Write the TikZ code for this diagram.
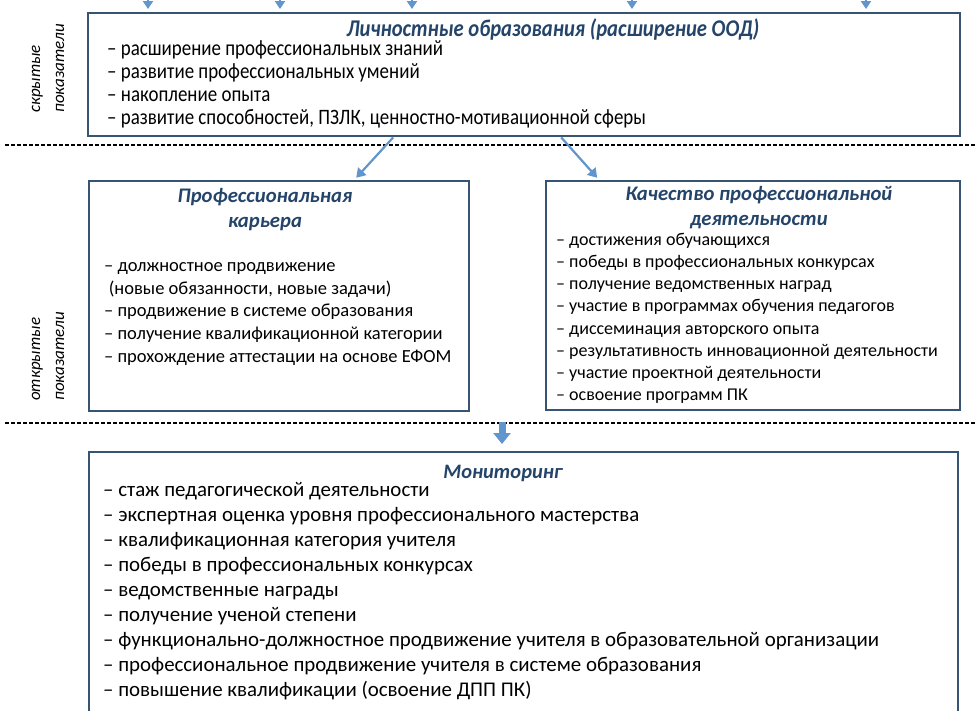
\documentclass[tikz,border=0pt]{standalone}
\usepackage{fontspec}
\setmainfont{Carlito}
\newfontfamily\condfont[FakeStretch=0.86]{Carlito}
\usetikzlibrary{arrows.meta,calc}
\definecolor{boxc}{RGB}{55,84,115}
\definecolor{titc}{RGB}{36,68,106}
\definecolor{arrc}{RGB}{96,150,205}
\begin{document}
\begin{tikzpicture}[x=1pt,y=-1pt,
  box/.style={draw=boxc, line width=2.4pt, fill=white, inner sep=0pt, anchor=north west},
  ttl/.style={text=titc, font=#1\bfseries\itshape, align=center, inner sep=0pt},
  itm/.style={text=black, font=#1, anchor=mid west, inner sep=0pt},
  side/.style={rotate=90, anchor=west, align=left, inner sep=0pt,
    font=\fontsize{17}{24}\selectfont\itshape},
  sep/.style={dashed, dash pattern=on 4pt off 2pt, line width=1.3pt, black},
  arrs/.style={arrc, line width=2pt, -{Triangle[width=10pt,length=8pt]}},
  arrm/.style={arrc, line width=2.2pt, -{Triangle[width=11pt,length=9pt]}},
  arrb/.style={arrc, line width=7pt, -{Triangle[width=17pt,length=11pt]}}]
\useasboundingbox (0,0) rectangle (980,710);
\clip (0,0) rectangle (980,710);
% separators
\draw[sep] (5,145) -- (975,145);
\draw[sep] (5,423) -- (975,423);
% boxes
\node[box, minimum width=872pt, minimum height=123pt] (top) at (87,12) {};
\node[box, minimum width=380pt, minimum height=230pt] (car) at (88,180) {};
\node[box, minimum width=414pt, minimum height=229pt] (kach) at (545,180) {};
\node[box, minimum width=869pt, minimum height=300pt] (mon) at (88,451) {};
% side labels
\node[side] (s1) at (48,113) {скрытые\\показатели};
\node[side] (s2) at (48,401) {открытые\\показатели};
% top arrows
\foreach \x [count=\k] in {148,280,412,632,866}{
  \coordinate (ta\k) at (\x,-6);
  \draw[arrs, shorten >=3pt] (ta\k) -- (ta\k |- top.north);
}
% arrows from top box
\draw[arrm, shorten >=3pt] ([xshift=-131pt]top.south) -- ([xshift=75pt]car.north);
\draw[arrm, shorten >=3pt] ([xshift=37pt]top.south) -- ([xshift=-154pt]kach.north);
% bottom arrow
\coordinate (b0) at (502,422);
\draw[arrb, shorten >=7pt] (b0) -- (b0 |- mon.north);
% titles
\node[ttl=\fontsize{24}{24}\selectfont\condfont] (t1) at (553,29) {Личностные образования (расширение ООД)};
\node[ttl=\fontsize{20.7}{25}\selectfont] (t2) at (265,210) {Профессиональная\\карьера};
\node[ttl=\fontsize{20.7}{25}\selectfont] (t3) at (759,208) {Качество профессиональной\\деятельности};
\node[ttl=\fontsize{20.5}{24}\selectfont] (t4) at (503,473) {Мониторинг};
% items
\foreach \t [count=\i from 0] in {{– расширение профессиональных знаний},{– развитие профессиональных умений},{– накопление опыта},{– развитие способностей, ПЗЛК, ценностно-мотивационной сферы}}{
  \node[itm=\fontsize{22}{23}\selectfont\condfont] (a\i) at (107,{53+23.2*\i}) {\t};
}
\foreach \t [count=\i from 0] in {{– должностное продвижение},{\hspace{0.25em}(новые обязанности, новые задачи)},{– продвижение в системе образования},{– получение квалификационной категории},{– прохождение аттестации на основе ЕФОМ}}{
  \node[itm=\fontsize{18.5}{23}\selectfont] (c\i) at (104,{269+22.8*\i}) {\t};
}
\foreach \t [count=\i from 0] in {{– достижения обучающихся},{– победы в профессиональных конкурсах},{– получение ведомственных наград},{– участие в программах обучения педагогов},{– диссеминация авторского опыта},{– результативность инновационной деятельности},{– участие проектной деятельности},{– освоение программ ПК}}{
  \node[itm=\fontsize{18}{22}\selectfont] (q\i) at (556,{243+22.2*\i}) {\t};
}
\foreach \t [count=\i from 0] in {{– стаж педагогической деятельности},{– экспертная оценка уровня профессионального мастерства},{– квалификационная категория учителя},{– победы в профессиональных конкурсах},{– ведомственные награды},{– получение ученой степени},{– функционально-должностное продвижение учителя в образовательной организации},{– профессиональное продвижение учителя в системе образования},{– повышение квалификации (освоение ДПП ПК)}}{
  \node[itm=\fontsize{20.9}{24}\selectfont] (m\i) at (103,{494+25*\i}) {\t};
}
\end{tikzpicture}
\end{document}
